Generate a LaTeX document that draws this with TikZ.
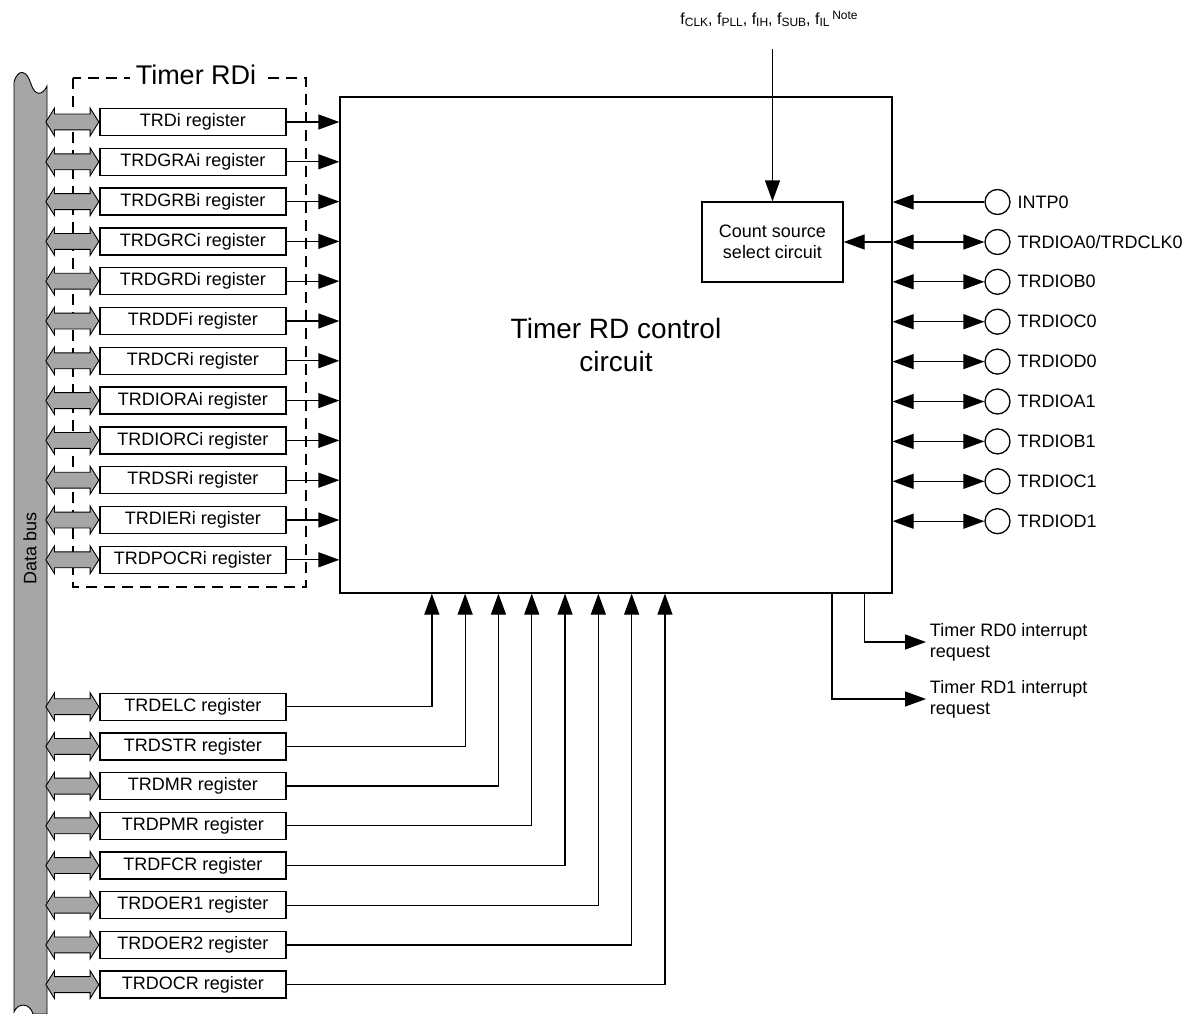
\documentclass[tikz,border=0pt]{standalone}
\usepackage{fontspec}
\setmainfont{Liberation Sans}
\usetikzlibrary{arrows.meta,shapes.arrows,positioning,calc}

% clock source name with lowered small subscript
\newcommand{\fsrc}[1]{f\raisebox{-1.5pt}{\fontsize{12}{12}\selectfont #1}}

\begin{document}
\begin{tikzpicture}[x=1pt, y=-1pt, line width=1.3pt,
    font=\fontsize{18}{21}\selectfont,
    reg/.style={draw, minimum width=186pt, minimum height=27pt, inner sep=0pt},
    busarr/.style={double arrow, draw, fill=black!35, line width=0.9pt, minimum height=53pt,
        inner xsep=0pt, inner ysep=7.5pt, double arrow head extend=6pt, double arrow tip angle=116},
    pin/.style={circle, draw, minimum size=25pt, inner sep=0pt},
    arr/.style={-{Triangle[length=21pt,width=15pt]}},
    dblarr/.style={{Triangle[length=21pt,width=15pt]}-{Triangle[length=21pt,width=15pt]}}
]
\useasboundingbox (0,0) rectangle (1194,1014);

% data bus
\draw[fill=black!35, line width=0.9pt] (14,1012) -- (14,82)
    .. controls (18,68) and (27,70) .. (31,84) .. controls (35,97) and (43,95) .. (47,86)
    -- (47,1014) -- (33,1014) .. controls (30,1003) and (18,1002) .. (14,1012) -- cycle;
\node[rotate=90] (bus) at (30,548) {Data bus};

% Timer RDi group
\draw[line width=2.8pt, dash pattern=on 11pt off 7pt] (73,78) rectangle (306,587);
\node[fill=white, font=\fontsize{27}{30}\selectfont, inner xsep=6pt] (grp) at (196,75) {Timer RDi};

\node[draw, minimum width=552pt, minimum height=496pt, align=center,
    font=\fontsize{28}{33}\selectfont] (ctrl) at (616,345) {Timer RD control\\circuit};
\node[draw, minimum width=141pt, minimum height=80pt, align=center] (css) at (772.5,242) {Count source\\select circuit};

\foreach \name [count=\i] in {TRDi,TRDGRAi,TRDGRBi,TRDGRCi,TRDGRDi,TRDDFi,TRDCRi,TRDIORAi,TRDIORCi,TRDSRi,TRDIERi,TRDPOCRi} {
  \node[reg] (r\i) at (193,{82.2+39.8*\i}) {\name\ register};
  \node[busarr, left=0pt of r\i] (a\i) {};
  \draw[arr] (r\i.east) -- (r\i.east -| ctrl.west);
}

\foreach \name [count=\i] in {TRDELC,TRDSTR,TRDMR,TRDPMR,TRDFCR,TRDOER1,TRDOER2,TRDOCR} {
  \node[reg] (b\i) at (193,{667+39.7*\i}) {\name\ register};
  \node[busarr, left=0pt of b\i] (c\i) {};
  \draw[arr] (b\i.east) -| ($(ctrl.south west)+({92.5+33.3*(\i-1)},0)$);
}

% count source input
\node[font=\fontsize{16}{18}\selectfont] (clk) at (769,19) {\fsrc{CLK}, \fsrc{PLL}, \fsrc{IH}, \fsrc{SUB}, \fsrc{IL}\,\raisebox{5pt}{\fontsize{12}{12}\selectfont Note}};
\coordinate (clkin) at (772.5,49);
\draw[arr] (clkin) -- (css.north);

% pins
\node[pin] (p0) at (997.5,202) {};
\node[right=3pt of p0] (l0) {INTP0};
\draw[arr] (p0.west) -- (p0.west -| ctrl.east);
\node[pin] (p1) at (997.5,242) {};
\node[right=3pt of p1] (l1) {TRDIOA0/TRDCLK0};
\draw[dblarr] (p1.west -| ctrl.east) -- (p1.west);
\draw[arr] (p1.west -| ctrl.east) -- (p1.west -| css.east);
\foreach \name [count=\i from 2] in {TRDIOB0,TRDIOC0,TRDIOD0,TRDIOA1,TRDIOB1,TRDIOC1,TRDIOD1} {
  \node[pin] (p\i) at (997.5,{202+39.9*\i}) {};
  \node[right=3pt of p\i] (l\i) {\name};
  \draw[dblarr] (p\i.west -| ctrl.east) -- (p\i.west);
}

% interrupt requests
\node[align=left, anchor=west] (irq0) at (926,642) {Timer RD0 interrupt\\request};
\node[align=left, anchor=west] (irq1) at (926,699) {Timer RD1 interrupt\\request};
\draw[arr] ($(ctrl.south west)+(525,0)$) |- (irq0.west);
\draw[arr] ($(ctrl.south west)+(492.5,0)$) |- (irq1.west);
\end{tikzpicture}
\end{document}
